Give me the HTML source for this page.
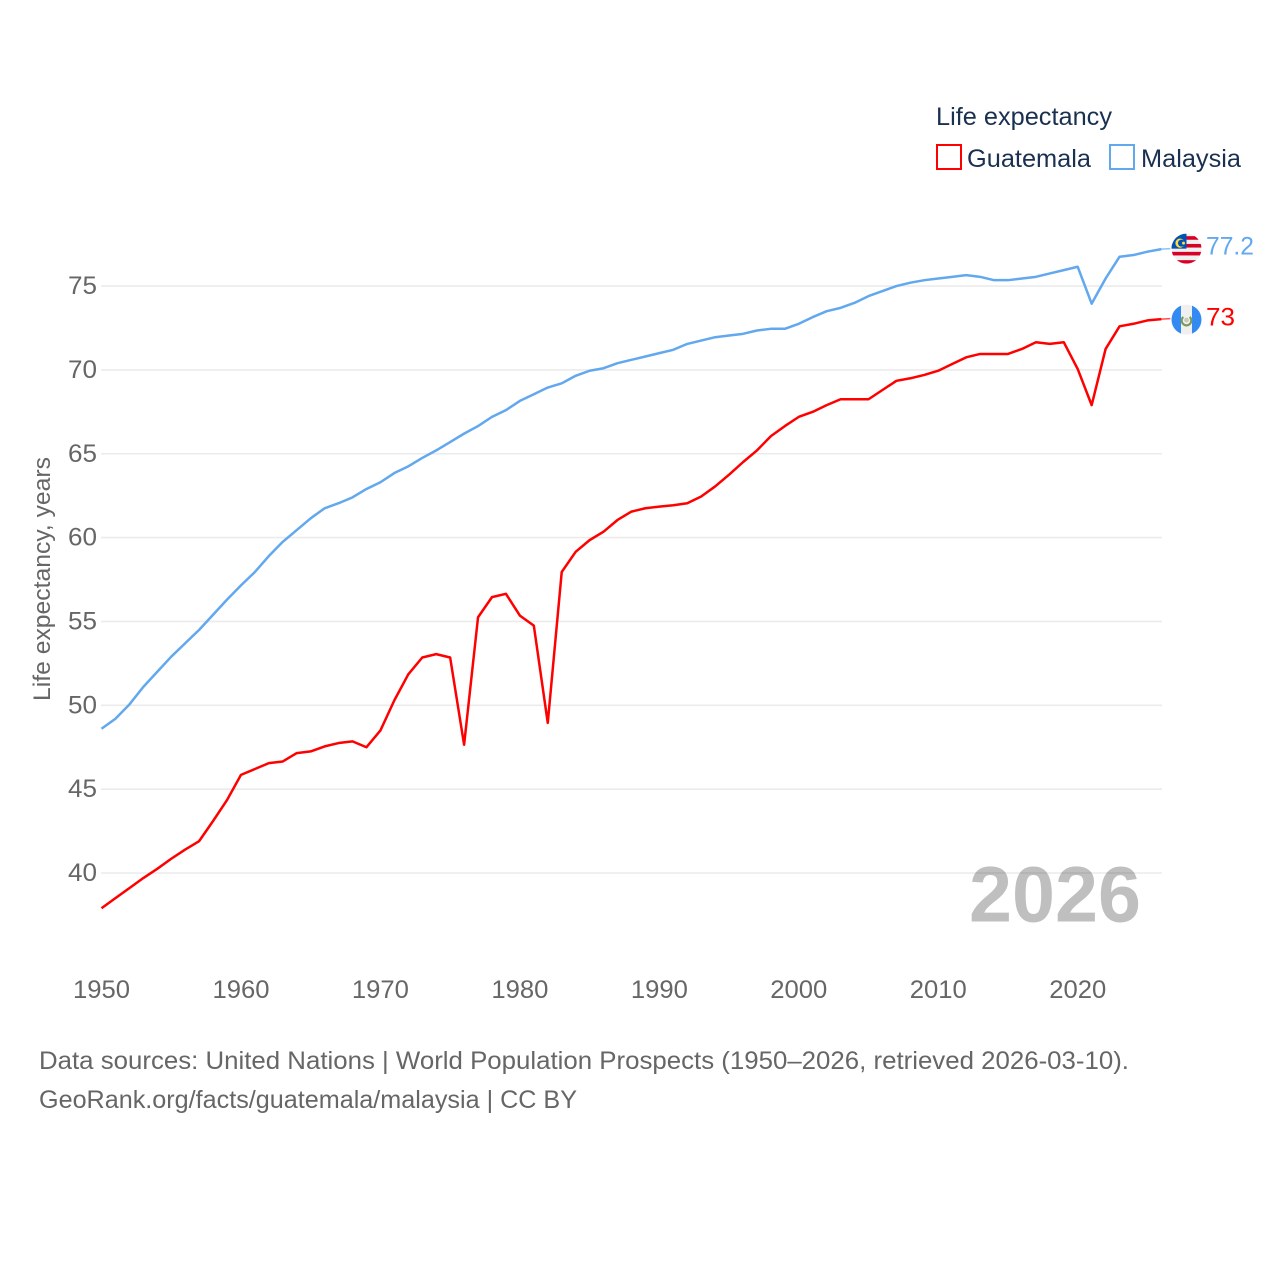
<!DOCTYPE html>
<html lang="en">
<head>
<meta charset="utf-8">
<title>Life expectancy: Guatemala and Malaysia</title>
<style>
html,body{margin:0;padding:0;background:#fff;}
svg{display:block;font-family:"Liberation Sans",sans-serif;}
</style>
</head>
<body>
<svg id="chart" width="1280" height="1280" viewBox="0 0 1280 1280" xmlns="http://www.w3.org/2000/svg">
  <defs>
    <clipPath id="flag-clip"><circle cx="0" cy="0" r="15"></circle></clipPath>
  </defs>
  <g id="grid"></g>
  <g id="y-ticks"></g>
  <g id="x-ticks"></g>
  <text transform="translate(50,701) rotate(-90)" font-size="24" fill="#666" textLength="244" lengthAdjust="spacingAndGlyphs">Life expectancy, years</text>
  <g id="series"></g>
  <text x="969" y="921.5" font-size="79" font-weight="bold" fill="#000" fill-opacity="0.25" textLength="172" lengthAdjust="spacingAndGlyphs">2026</text>

  <g>
    <text x="936" y="125" font-size="25" fill="#1a3050" textLength="176" lengthAdjust="spacingAndGlyphs">Life expectancy</text>
    <rect x="937" y="145" width="24" height="24" fill="#fff" stroke="#ff0000" stroke-width="2"></rect>
    <text x="967" y="167" font-size="25" fill="#1a3050" textLength="124" lengthAdjust="spacingAndGlyphs">Guatemala</text>
    <rect x="1110" y="145" width="24" height="24" fill="#fff" stroke="#62a8ef" stroke-width="2"></rect>
    <text x="1141" y="167" font-size="25" fill="#1a3050" textLength="100" lengthAdjust="spacingAndGlyphs">Malaysia</text>
  </g>

  <g id="flag-malaysia">
    <g clip-path="url(#flag-clip)">
      <rect x="-15" y="-15" width="30" height="30" fill="#f0f0f0"></rect>
      <rect x="-15" y="-12.5" width="30" height="3.6" fill="#d80027"></rect>
      <rect x="-15" y="-4.7" width="30" height="3.6" fill="#d80027"></rect>
      <rect x="-15" y="3.2" width="30" height="3.6" fill="#d80027"></rect>
      <rect x="-15" y="11.5" width="30" height="3.6" fill="#d80027"></rect>
      <rect x="-15" y="-15" width="15" height="15" fill="#0052b4"></rect>
      <circle cx="-6.5" cy="-5.5" r="4.6" fill="#ffda44"></circle>
      <circle cx="-5" cy="-5.5" r="3.5" fill="#0052b4"></circle>
      <circle cx="-3" cy="-5.5" r="1.5" fill="#ffda44"></circle>
    </g>
  </g>
  <g id="flag-guatemala">
    <g clip-path="url(#flag-clip)">
      <rect x="-15" y="-15" width="30" height="30" fill="#f0f0f0"></rect>
      <rect x="-15" y="-15" width="9.5" height="30" fill="#338af3"></rect>
      <rect x="5.5" y="-15" width="9.5" height="30" fill="#338af3"></rect>
      <path d="M-3.2,-2.6 A4.8,4.8 0 1 0 3.2,-2.6" fill="none" stroke="#7c9a5e" stroke-width="2.2"></path>
      <circle cx="0" cy="0.5" r="2.4" fill="#c9c9b8"></circle>
    </g>
  </g>
  <text id="end-label-malaysia" x="1206" font-size="25" fill="#62a8ef" textLength="48" lengthAdjust="spacingAndGlyphs"></text>
  <text id="end-label-guatemala" x="1206" font-size="25" fill="#ff0000" textLength="29" lengthAdjust="spacingAndGlyphs"></text>

  <text x="39" y="1069" font-size="25" fill="#666" textLength="1090" lengthAdjust="spacingAndGlyphs">Data sources: United Nations | World Population Prospects (1950–2026, retrieved 2026-03-10).</text>
  <text x="39" y="1108" font-size="25" fill="#666" textLength="538" lengthAdjust="spacingAndGlyphs">GeoRank.org/facts/guatemala/malaysia | CC BY</text>
</svg>
<script>
var startYear = 1950;
var guatemalaValues = [37.9,38.5,39.1,39.7,40.25,40.85,41.4,41.9,43.1,44.35,45.85,46.2,46.55,46.65,47.15,47.25,47.55,47.75,47.85,47.5,48.5,50.3,51.85,52.85,53.05,52.85,47.65,55.25,56.45,56.65,55.35,54.75,48.95,57.95,59.15,59.85,60.35,61.05,61.55,61.75,61.85,61.93,62.05,62.45,63.05,63.75,64.5,65.2,66.05,66.65,67.2,67.5,67.9,68.25,68.25,68.25,68.8,69.35,69.5,69.7,69.95,70.35,70.75,70.95,70.95,70.95,71.25,71.65,71.55,71.65,70.05,67.9,71.25,72.6,72.75,72.95,73.03];
var malaysiaValues = [48.6,49.2,50.05,51.1,52,52.9,53.7,54.5,55.4,56.3,57.15,57.95,58.9,59.75,60.45,61.15,61.75,62.05,62.4,62.9,63.3,63.85,64.25,64.75,65.2,65.7,66.2,66.65,67.2,67.6,68.15,68.55,68.95,69.2,69.65,69.95,70.1,70.4,70.6,70.8,71,71.2,71.55,71.75,71.95,72.05,72.15,72.35,72.45,72.45,72.75,73.15,73.5,73.7,74,74.4,74.7,75,75.2,75.35,75.45,75.55,75.65,75.55,75.35,75.35,75.45,75.55,75.75,75.95,76.15,73.95,75.45,76.75,76.85,77.05,77.2];
var yTickValues = [40,45,50,55,60,65,70,75];
var xTickValues = [1950,1960,1970,1980,1990,2000,2010,2020];
var endLabels = ["77.2","73"];

var NS = 'http://www.w3.org/2000/svg';
function xScale(year){ return 101.5 + (year - 1950) * 13.946; }
function yScale(v){ return 873 - (v - 40) * 16.77; }
function make(tag, attrs, parent){
  var el = document.createElementNS(NS, tag);
  for (var k in attrs) el.setAttribute(k, attrs[k]);
  parent.appendChild(el);
  return el;
}
var gridG = document.getElementById('grid');
var yG = document.getElementById('y-ticks');
var xG = document.getElementById('x-ticks');
var seriesG = document.getElementById('series');

yTickValues.forEach(function(v){
  var line = make('line', {x1:101, x2:1162, y1:yScale(v), y2:yScale(v), stroke:'#ebebeb', 'stroke-width':1.6}, gridG);
  
  
  var t = make('text', {x:97, y:yScale(v)+8, 'text-anchor':'end', 'font-size':25, fill:'#666', textLength:29, lengthAdjust:'spacingAndGlyphs'}, yG);
  
  
  t.textContent = v;
});
xTickValues.forEach(function(y){
  var t = make('text', {x:xScale(y), y:998, 'text-anchor':'middle', 'font-size':25, fill:'#666', textLength:57, lengthAdjust:'spacingAndGlyphs'}, xG);
  
  
  t.textContent = y;
});
function drawSeries(values, color, name){
  var pts = values.map(function(v,i){ return xScale(startYear+i).toFixed(2)+','+yScale(v).toFixed(2); });
  var lastX = xScale(startYear+values.length-1);
  var lastY = yScale(values[values.length-1]);
  var conn = make('line', {x1:lastX, x2:lastX+9, y1:lastY, y2:lastY-0.5, stroke:color, 'stroke-width':1.5, 'stroke-opacity':0.7}, seriesG);
  
  
  var line = make('polyline', {points:pts.join(' '), fill:'none', stroke:color, 'stroke-width':2.5, 'stroke-linejoin':'round'}, seriesG);
  
  
  return lastY;
}
var gy = drawSeries(guatemalaValues, '#ff0000', 'guatemala');
var my = drawSeries(malaysiaValues, '#62a8ef', 'malaysia');
document.getElementById('flag-malaysia').setAttribute('transform', 'translate(1186.5,' + (my-0.5) + ')');
document.getElementById('flag-guatemala').setAttribute('transform', 'translate(1186.5,' + (gy+0.5) + ')');
var lm = document.getElementById('end-label-malaysia');
lm.setAttribute('y', my + 5.5);
lm.textContent = endLabels[0];
var lg = document.getElementById('end-label-guatemala');
lg.setAttribute('y', gy + 6.5);
lg.textContent = endLabels[1];
</script>
</body>
</html>
